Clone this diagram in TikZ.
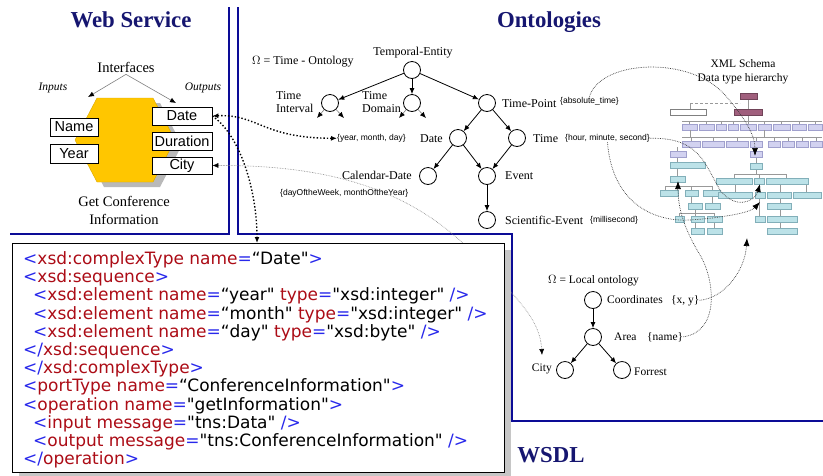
\documentclass[tikz,border=0pt]{standalone}
\usepackage{fontspec}
\setmainfont{Liberation Serif}
\newfontfamily\arialf{Liberation Sans}
\newfontfamily\codef{DejaVu Sans}[Ligatures=TeXOff]
\usetikzlibrary{arrows.meta}

\definecolor{zonec}{RGB}{12,12,150}
\definecolor{headc}{RGB}{22,22,112}
\definecolor{hexc}{RGB}{255,198,0}
\definecolor{tagblue}{RGB}{40,40,235}
\definecolor{tagred}{RGB}{172,12,22}
\definecolor{purp}{RGB}{160,95,125}
\definecolor{lav}{RGB}{210,210,240}
\definecolor{lavd}{RGB}{160,160,205}
\definecolor{cyn}{RGB}{188,226,232}
\definecolor{cynd}{RGB}{130,175,185}

\newcommand\tagb[1]{{\color{tagblue}#1}}
\newcommand\tagr[1]{{\color{tagred}#1}}

\begin{document}
\begin{tikzpicture}[x=1pt,y=-1pt,
  zoneline/.style={zonec, line width=2.8pt, line join=miter},
  headline/.style={font=\bfseries\fontsize{22.8}{26}\selectfont, text=headc, inner sep=0pt, anchor=base},
  tnode/.style={circle, draw, line width=0.8pt, minimum size=17pt, inner sep=0pt, fill=white},
  lbl/.style={font=\fontsize{12}{13}\selectfont, inner sep=0pt},
  sml/.style={font=\arialf\fontsize{8.5}{10}\selectfont, inner sep=0pt},
  ibox/.style={draw, line width=0.8pt, fill=white, font=\arialf\fontsize{14.5}{16}\selectfont, inner sep=0pt},
  tarrow/.style={-{Latex[length=6pt,width=5pt]}, line width=0.8pt},
  garrow/.style={-{Latex[length=6pt,width=5pt,color=black]}, gray, line width=0.6pt},
  bigdots/.style={dotted, line width=1.4pt},
  finedot/.style={densely dotted, line width=0.7pt, black!75},
  bighead/.style={-{Latex[length=8pt,width=6pt,color=black]}},
  codeline/.style={anchor=base west, inner sep=0pt, font=\codef\fontsize{17}{18}\selectfont},
  lavbox/.style={fill=lav, draw=lavd, line width=0.3pt},
  cynbox/.style={fill=cyn, draw=cynd, line width=0.3pt},
  purbox/.style={fill=purp, draw=purp!70!black, line width=0.3pt},
  treeline/.style={gray!80, line width=0.5pt}]

\useasboundingbox (0,0) rectangle (823,475);
\fill[white] (0,0) rectangle (823,475);

% zone borders
\draw[zoneline] (229,7) -- (229,234) -- (10,234);
\draw[zoneline] (238,7) -- (238,234) -- (512,234) -- (512,421) -- (823,421);

% headings
\node[headline] (hws) at (131,27) {Web Service};
\node[headline] (hon) at (549,27) {Ontologies};
\node[headline] (hwsdl) at (551,462) {WSDL};

% ---------------- web service ----------------
\fill[gray!55] (104,103) -- (160,103) -- (182,145) -- (160,187) -- (104,187) -- (82,145) -- cycle;
\filldraw[fill=hexc, draw=hexc!85!black, line width=0.4pt]
  (97,98) -- (153,98) -- (175,140) -- (153,182) -- (97,182) -- (75,140) -- cycle;

\node[ibox, minimum width=48pt, minimum height=18pt] (name) at (74,127) {Name};
\node[ibox, minimum width=48pt, minimum height=19pt] (year) at (74,153.5) {Year};
\node[ibox, minimum width=60pt, minimum height=18pt] (date) at (182,116) {Date};
\node[ibox, minimum width=60pt, minimum height=18pt] (dur) at (182,141) {Duration};
\node[ibox, minimum width=60pt, minimum height=17pt] (city) at (182,165.5) {City};

\node[lbl, font=\fontsize{14.5}{16}\selectfont, anchor=base] (ifc) at (126,72) {Interfaces};
\node[lbl, font=\itshape\fontsize{11.5}{13}\selectfont, anchor=base] (inp) at (53,90) {Inputs};
\node[lbl, font=\itshape\fontsize{11.5}{13}\selectfont, anchor=base] (outp) at (203,90) {Outputs};
\coordinate (inpt) at (88,97);
\coordinate (outt) at (176,103);
\draw[garrow] (ifc.south) ++(0,2) -- (inpt);
\draw[garrow] (ifc.south) ++(0,2) -- (outt);
\node[lbl, font=\fontsize{14.5}{17.5}\selectfont, align=center, anchor=base] (gci) at (124,224) {Get Conference\\Information};

% ---------------- time ontology ----------------
\node[lbl, anchor=base west] (omt) at (252,64) {$\Omega$ = Time - Ontology};
\node[tnode] (te) at (412,70) {};
\node[tnode] (ti) at (330,103) {};
\node[tnode] (td) at (412,103) {};
\node[tnode] (tp) at (487,103) {};
\node[tnode] (dt) at (458,138) {};
\node[tnode] (tm) at (517,138) {};
\node[tnode] (cd) at (428,176) {};
\node[tnode] (ev) at (487,176) {};
\node[tnode] (se) at (487,220) {};

\node[lbl, anchor=base] (tel) at (413,55) {Temporal-Entity};
\node[lbl, font=\fontsize{12}{13}\selectfont, anchor=base west, align=left] (til) at (276,112.5) {Time\\Interval};
\node[lbl, font=\fontsize{12}{13}\selectfont, anchor=base west, align=left] (tdl) at (362,112.5) {Time\\Domain};
\node[lbl, anchor=base west] (tpl) at (502,107) {Time-Point};
\node[sml, anchor=base west] (abs) at (560,103) {\{absolute\_time\}};
\node[lbl, anchor=base east] (dtl) at (443,142) {Date};
\node[sml, anchor=base west] (ymd) at (337,140.5) {\{year, month, day\}};
\node[lbl, anchor=base west] (tml) at (533,142) {Time};
\node[sml, anchor=base west] (hms) at (565,140.5) {\{hour, minute, second\}};
\node[lbl, anchor=base east] (cdl) at (412,179) {Calendar-Date};
\node[sml, anchor=base west] (dow) at (280,195) {\{dayOftheWeek, monthOftheYear\}};
\node[lbl, anchor=base west] (evl) at (505,179) {Event};
\node[lbl, anchor=base west] (sel) at (505,224) {Scientific-Event};
\node[sml, anchor=base west] (ms) at (590,222) {\{millisecond\}};

\draw[tarrow] (te) -- (ti);
\draw[tarrow] (te) -- (td);
\draw[tarrow] (te) -- (tp);
\draw[tarrow] (tp) -- (dt);
\draw[tarrow] (tp) -- (tm);
\draw[tarrow] (dt) -- (cd);
\draw[tarrow] (dt) -- (ev);
\draw[tarrow] (tm) -- (ev);
\draw[tarrow] (ev) -- (se);

\coordinate (ti1) at (317,118);
\coordinate (ti2) at (344,118);
\coordinate (td1) at (399,118);
\coordinate (td2) at (426,118);
\draw[garrow] (ti) -- (ti1);
\draw[garrow] (ti) -- (ti2);
\draw[garrow] (td) -- (td1);
\draw[garrow] (td) -- (td2);

% ---------------- local ontology ----------------
\node[lbl, font=\fontsize{11.5}{13}\selectfont, anchor=base west] (oml) at (548,283.5) {$\Omega$ = Local ontology};
\node[tnode] (co) at (593,300) {};
\node[tnode] (ar) at (593,337) {};
\node[tnode] (lc) at (565,370) {};
\node[tnode] (fo) at (622,370) {};
\node[lbl, font=\fontsize{11.5}{13}\selectfont, anchor=base west] (col) at (607,303) {Coordinates};
\node[lbl, font=\fontsize{11.5}{13}\selectfont, anchor=base west] (xy) at (671,303) {\{x, y\}};
\node[lbl, font=\fontsize{11.5}{13}\selectfont, anchor=base west] (arl) at (614,340) {Area};
\node[lbl, font=\fontsize{11.5}{13}\selectfont, anchor=base west] (nm) at (647,340) {\{name\}};
\node[lbl, font=\fontsize{11.5}{13}\selectfont, anchor=base east] (lcl) at (552,371) {City};
\node[lbl, font=\fontsize{11.5}{13}\selectfont, anchor=base west] (fol) at (634,375) {Forrest};
\draw[tarrow] (co) -- (ar);
\draw[tarrow] (ar) -- (lc);
\draw[tarrow] (ar) -- (fo);

% ---------------- XML schema type tree ----------------
\node[lbl, font=\fontsize{11.5}{13}\selectfont, anchor=base] (xs1) at (743,67) {XML Schema};
\node[lbl, font=\fontsize{11.5}{13}\selectfont, anchor=base] (xs2) at (743,81.5) {Data type hierarchy};

\draw[treeline, densely dashed] (690,103) -- (740,103);
\draw[treeline] (690,103) -- (690,109);
\draw[treeline] (748,99) -- (748,121);
\draw[fill=white, draw=gray, line width=0.4pt] (670,109) rectangle (706,115);
\draw[purbox] (740,93) rectangle (757,99);
\draw[purbox] (734,109) rectangle (762,115);
\draw[treeline] (682,121) -- (822,121);
\foreach \a/\b in {682/697,699/714,716/726,728/738,740/756,758/771,773/790,792/806,808/822}
  {\draw[treeline] ({(\a+\b)/2},121) -- ({(\a+\b)/2},124);
   \draw[lavbox] (\a,124) rectangle (\b,130);}
\draw[treeline] (682,137) -- (822,137);
\draw[treeline] (690,130) -- (690,137);
\draw[treeline] (764,130) -- (764,137);
\foreach \a/\b in {682/700,702/724,726/748,750/762,768/780,782/794,796/808,810/822}
  {\draw[treeline] ({(\a+\b)/2},137) -- ({(\a+\b)/2},141);
   \draw[lavbox] (\a,141) rectangle (\b,147);}
% left branch
\draw[treeline] (677,147) -- (677,190);
\draw[treeline] (665,186) -- (712,186);
\draw[treeline] (665,186) -- (665,190);
\draw[treeline] (691,186) -- (691,203);
\draw[treeline] (712,186) -- (712,203);
\draw[treeline] (695,209) -- (695,228);
\draw[treeline] (679,213) -- (715,213);
\draw[treeline] (679,213) -- (679,216);
\draw[treeline] (714,213) -- (714,228);
\draw[lavbox] (670,151) rectangle (686,157);
\draw[cynbox] (670,162) rectangle (705,168);
\draw[cynbox] (670,176) rectangle (685,182);
\draw[cynbox] (660,190) rectangle (678,196);
\draw[cynbox] (685,190) rectangle (698,196);
\draw[cynbox] (703,190) rectangle (720,196);
\draw[cynbox] (688,203) rectangle (702,209);
\draw[cynbox] (705,203) rectangle (720,209);
\draw[cynbox] (675,216) rectangle (684,222);
\draw[cynbox] (691,216) rectangle (704,222);
\draw[cynbox] (707,216) rectangle (722,222);
\draw[cynbox] (691,228) rectangle (704,234);
\draw[cynbox] (707,228) rectangle (722,234);
% right branch
\draw[treeline] (756,147) -- (756,174);
\draw[treeline] (734,174) -- (786,174);
\draw[treeline] (734,174) -- (734,178);
\draw[treeline] (786,174) -- (786,178);
\draw[treeline] (759,174) -- (759,217);
\draw[treeline] (780,184) -- (780,228);
\draw[treeline] (806,184) -- (806,192);
\draw[treeline] (735,184) -- (735,192);
\draw[lavbox] (750,151) rectangle (762,157);
\draw[cynbox] (750,163) rectangle (762,169);
\draw[cynbox] (716,178) rectangle (752,184);
\draw[cynbox] (754,178) rectangle (764,184);
\draw[cynbox] (766,178) rectangle (808,184);
\draw[cynbox] (718,192) rectangle (752,198);
\draw[cynbox] (755,192) rectangle (765,198);
\draw[cynbox] (767,192) rectangle (791,198);
\draw[cynbox] (793,192) rectangle (821,198);
\draw[cynbox] (767,203) rectangle (791,209);
\draw[cynbox] (755,216) rectangle (765,222);
\draw[cynbox] (767,216) rectangle (797,222);
\draw[cynbox] (767,228) rectangle (797,234);

\coordinate (sA) at (755,156);
\coordinate (sB) at (678,181);
\coordinate (sC) at (760,184);
\coordinate (sD) at (760,202);
\coordinate (sE) at (747,238);

% ---------------- mappings ----------------
\draw[finedot, bighead] (abs.north) .. controls (600,60) and (690,55) .. (725,95)
  .. controls (745,118) and (755,135) .. (sA);
\draw[finedot, bighead] (hms.east) .. controls (700,137) and (705,165) .. (720,190)
  .. controls (735,210) and (755,202) .. (sC);
\draw[finedot, bighead] (hms.south) .. controls (612,200) and (650,222) .. (690,220)
  .. controls (720,218) and (750,213) .. (sD);
\draw[finedot, bighead] (xy.east) .. controls (725,298) and (745,270) .. (sE);
\draw[finedot, bighead] (nm.east) .. controls (720,332) and (715,280) .. (700,255)
  .. controls (685,230) and (678,210) .. (sB);

\coordinate (lcin) at (542,355);
\draw[gray, densely dotted, line width=0.6pt,
      {Latex[length=6pt,width=5pt,color=black]}-{Latex[length=6pt,width=5pt,color=black]}]
  (city.east) .. controls (330,165) and (410,190) .. (470,250)
  .. controls (520,300) and (540,320) .. (lcin);

% ---------------- WSDL code ----------------
\fill[gray!45] (19,250) rectangle (510.5,480);
\node[draw, line width=0.8pt, fill=white, minimum width=492pt, minimum height=229pt,
      anchor=north west, inner sep=0pt] (codebox) at (12,243) {};
\coordinate (codein) at (257,243);

\node[codeline] (c1) at (23,264.5) {\tagb{<}\tagr{xsd:complexType name}\tagb{=}“Date"\tagb{>}};
\node[codeline] (c2) at (23,282.7) {\tagb{<}\tagr{xsd:sequence}\tagb{>}};
\node[codeline] (c3) at (33,300.9) {\tagb{<}\tagr{xsd:element name}\tagb{=}“year" \tagr{type}\tagb{=}"xsd:integer" \tagb{/>}};
\node[codeline] (c4) at (33,319.1) {\tagb{<}\tagr{xsd:element name}\tagb{=}“month" \tagr{type}\tagb{=}"xsd:integer" \tagb{/>}};
\node[codeline] (c5) at (33,337.3) {\tagb{<}\tagr{xsd:element name}\tagb{=}“day" \tagr{type}\tagb{=}"xsd:byte" \tagb{/>}};
\node[codeline] (c6) at (23,355.5) {\tagb{</}\tagr{xsd:sequence}\tagb{>}};
\node[codeline] (c7) at (23,373.7) {\tagb{</}\tagr{xsd:complexType}\tagb{>}};
\node[codeline] (c8) at (23,391.9) {\tagb{<}\tagr{portType name}\tagb{=}“ConferenceInformation"\tagb{>}};
\node[codeline] (c9) at (23,410.1) {\tagb{<}\tagr{operation name}\tagb{=}"getInformation"\tagb{>}};
\node[codeline] (c10) at (33,428.3) {\tagb{<}\tagr{input message}\tagb{=}"tns:Data" \tagb{/>}};
\node[codeline] (c11) at (33,446.5) {\tagb{<}\tagr{output message}\tagb{=}"tns:ConferenceInformation" \tagb{/>}};
\node[codeline] (c12) at (23,464.7) {\tagb{</}\tagr{operation}\tagb{>}};

% links from the Date output
\draw[bigdots, {Latex[length=6pt,width=5pt]}-{Latex[length=6pt,width=5pt]}]
  (date.east) .. controls (258,114) and (262,138) .. (ymd.west);
\draw[bigdots, -{Latex[length=6pt,width=5pt]}]
  (date.east) .. controls (240,135) and (257,190) .. (codein);

\end{tikzpicture}
\end{document}
